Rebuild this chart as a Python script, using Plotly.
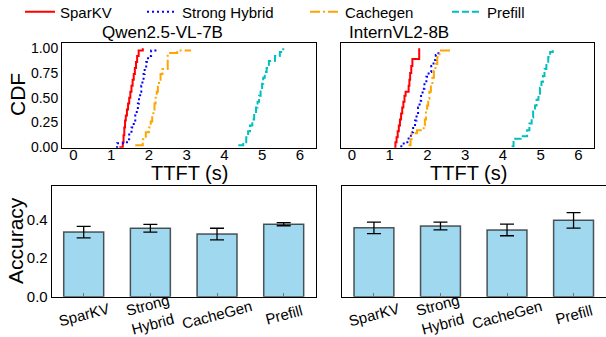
import plotly.graph_objects as go

W, H = 606, 337
FONT = "Liberation Sans, Arial, sans-serif"

methods = ["SparKV", "Strong Hybrid", "Cachegen", "Prefill"]
colors = ["#ff0000", "#0000ff", "#ffa500", "#00bfbf"]
dashes = ["solid", "2px,3px", "10px,3px,2px,3px", "7px,3px"]

# ---- CDF step points (TTFT seconds, CDF) : Qwen2.5-VL-7B ----
qwen_sparkv_x = [1.22, 1.31, 1.33, 1.35, 1.37, 1.39, 1.42, 1.45, 1.48, 1.51, 1.54, 1.57, 1.60, 1.63, 1.66, 1.69, 1.73, 1.84]
qwen_sparkv_y = [0.0, 0.05, 0.12, 0.20, 0.27, 0.32, 0.38, 0.44, 0.50, 0.56, 0.62, 0.68, 0.74, 0.80, 0.86, 0.92, 0.976, 1.0]
qwen_hybrid_x = [1.13, 1.16, 1.42, 1.48, 1.54, 1.60, 1.64, 1.68, 1.71, 1.74, 1.77, 1.80, 1.83, 1.86, 1.89, 1.93, 1.98, 2.06, 2.24]
qwen_hybrid_y = [0.0, 0.04, 0.08, 0.14, 0.20, 0.26, 0.32, 0.38, 0.44, 0.50, 0.56, 0.62, 0.68, 0.74, 0.80, 0.86, 0.92, 0.975, 0.975]
qwen_cachegen_x = [1.64, 1.84, 1.92, 2.00, 2.05, 2.09, 2.12, 2.15, 2.18, 2.21, 2.24, 2.27, 2.31, 2.36, 2.50, 2.75, 3.12]
qwen_cachegen_y = [0.02, 0.08, 0.15, 0.20, 0.26, 0.32, 0.38, 0.44, 0.50, 0.56, 0.62, 0.68, 0.74, 0.79, 0.95, 0.975, 0.975]
qwen_prefill_x = [4.37, 4.50, 4.58, 4.63, 4.68, 4.74, 4.79, 4.84, 4.88, 4.92, 4.96, 5.00, 5.03, 5.07, 5.12, 5.18, 5.34, 5.47, 5.56]
qwen_prefill_y = [0.02, 0.05, 0.10, 0.16, 0.22, 0.28, 0.34, 0.40, 0.46, 0.52, 0.58, 0.64, 0.70, 0.76, 0.80, 0.87, 0.92, 0.96, 1.0]

# ---- CDF step points : InternVL2-8B ----
intern_sparkv_x = [1.12, 1.15, 1.18, 1.21, 1.24, 1.27, 1.30, 1.33, 1.36, 1.39, 1.42, 1.50, 1.52, 1.54, 1.57, 1.60, 1.78]
intern_sparkv_y = [0.0, 0.05, 0.10, 0.16, 0.22, 0.28, 0.34, 0.40, 0.46, 0.52, 0.56, 0.62, 0.68, 0.75, 0.82, 0.89, 1.0]
intern_hybrid_x = [1.28, 1.37, 1.50, 1.56, 1.62, 1.67, 1.71, 1.75, 1.79, 1.83, 1.87, 1.92, 1.97, 2.03, 2.10, 2.16, 2.22, 2.29]
intern_hybrid_y = [0.01, 0.05, 0.10, 0.15, 0.21, 0.27, 0.33, 0.40, 0.47, 0.53, 0.59, 0.65, 0.71, 0.76, 0.82, 0.88, 0.93, 0.98]
intern_cachegen_x = [1.50, 1.55, 1.58, 1.72, 1.90, 1.93, 1.96, 1.99, 2.02, 2.05, 2.09, 2.13, 2.17, 2.21, 2.26, 2.32, 2.60]
intern_cachegen_y = [0.02, 0.08, 0.14, 0.17, 0.22, 0.28, 0.35, 0.42, 0.49, 0.56, 0.63, 0.70, 0.77, 0.84, 0.91, 0.975, 0.975]
intern_prefill_x = [4.23, 4.28, 4.47, 4.64, 4.70, 4.76, 4.80, 4.85, 4.89, 4.94, 4.98, 5.02, 5.06, 5.10, 5.15, 5.20, 5.25, 5.32]
intern_prefill_y = [0.01, 0.085, 0.11, 0.17, 0.24, 0.30, 0.36, 0.42, 0.48, 0.54, 0.60, 0.66, 0.72, 0.79, 0.85, 0.91, 0.96, 1.0]

# ---- Accuracy bars ----
bar_categories = ["SparKV", "Strong Hybrid", "CacheGen", "Prefill"]
bar_labels = ["SparKV", "Strong<br>Hybrid", "CacheGen", "Prefill"]
qwen_acc = [0.335, 0.355, 0.325, 0.376]
qwen_err = [0.030, 0.020, 0.030, 0.008]
intern_acc = [0.357, 0.367, 0.346, 0.396]
intern_err = [0.030, 0.020, 0.030, 0.040]

panel_titles = ["Qwen2.5-VL-7B", "InternVL2-8B"]
cdf_ticks = [0, 1, 2, 3, 4, 5, 6]
cdf_yticks = [0.0, 0.25, 0.5, 0.75, 1.0]
acc_yticks = [0.0, 0.2, 0.4]

qwen_cdf = [(qwen_sparkv_x, qwen_sparkv_y), (qwen_hybrid_x, qwen_hybrid_y),
            (qwen_cachegen_x, qwen_cachegen_y), (qwen_prefill_x, qwen_prefill_y)]
intern_cdf = [(intern_sparkv_x, intern_sparkv_y), (intern_hybrid_x, intern_hybrid_y),
              (intern_cachegen_x, intern_cachegen_y), (intern_prefill_x, intern_prefill_y)]

fig = go.Figure()
legend_names = ["legend", "legend2", "legend3", "legend4"]
for i, (xs, ys) in enumerate(qwen_cdf):
    fig.add_trace(go.Scatter(x=xs, y=ys, mode="lines", line_shape="hv",
                             line=dict(color=colors[i], width=2, dash=dashes[i]),
                             name=methods[i], legend=legend_names[i],
                             xaxis="x", yaxis="y"))
for i, (xs, ys) in enumerate(intern_cdf):
    fig.add_trace(go.Scatter(x=xs, y=ys, mode="lines", line_shape="hv",
                             line=dict(color=colors[i], width=2, dash=dashes[i]),
                             name=methods[i], showlegend=False,
                             xaxis="x2", yaxis="y2"))

bar_style = dict(marker=dict(color="#9fd8ef", line=dict(color="rgba(0,0,0,0.65)", width=1.5)),
                 width=0.6, showlegend=False)
fig.add_trace(go.Bar(x=bar_categories, y=qwen_acc,
                     error_y=dict(type="data", array=qwen_err, color="black", thickness=1.3, width=7),
                     xaxis="x3", yaxis="y3", **bar_style))
fig.add_trace(go.Bar(x=bar_categories, y=intern_acc,
                     error_y=dict(type="data", array=intern_err, color="black", thickness=1.3, width=7),
                     xaxis="x4", yaxis="y4", **bar_style))

def px(x):
    return x / W

def py(y):
    return 1 - y / H

frame = dict(showline=True, linecolor="black", linewidth=1, mirror=True,
             showgrid=False, zeroline=False)
tickfont = dict(family=FONT, size=14, color="black")

cdf_x = dict(range=[-0.3, 6.42], tickvals=cdf_ticks, ticks="", ticklen=0,
             tickfont=dict(family=FONT, size=15, color="black"),
             ticklabelstandoff=-7, **frame)
cdf_y = dict(range=[-0.005, 1.055], tickvals=cdf_yticks, tickformat=".2f", ticks="", ticklen=0,
             tickfont=tickfont, **frame)
bar_x = dict(range=[-0.48, 3.48], type="category", ticks="inside", ticklen=4,
             tickcolor="#777", showticklabels=False, **frame)
bar_y = dict(range=[0, 0.574], tickvals=acc_yticks, tickformat=".1f", ticks="", ticklen=0,
             tickfont=dict(family=FONT, size=15, color="black"), **frame)

fig.update_layout(
    width=W, height=H,
    margin=dict(l=0, r=0, t=0, b=0, autoexpand=False),
    paper_bgcolor="white", plot_bgcolor="white",
    font=dict(family=FONT, color="black"),
    xaxis=dict(domain=[px(62), px(315.7)], anchor="y", **cdf_x),
    yaxis=dict(domain=[py(147.7), py(42.7)], anchor="x", **cdf_y),
    xaxis2=dict(domain=[px(340.7), px(594.3)], anchor="y2", **cdf_x),
    yaxis2=dict(domain=[py(147.7), py(42.7)], anchor="x2", showticklabels=False, **cdf_y),
    xaxis3=dict(domain=[px(51.7), px(315.7)], anchor="y3", **bar_x),
    yaxis3=dict(domain=[py(296.7), py(186)], anchor="x3", **bar_y),
    xaxis4=dict(domain=[px(342), px(605.5)], anchor="y4", **bar_x),
    yaxis4=dict(domain=[py(296.7), py(186)], anchor="x4", showticklabels=False, **bar_y),
    bargap=0.4,
)

legend_x = [20, 142, 305, 447]
leg_common = dict(orientation="h", yanchor="middle", y=py(12), xanchor="left",
                  bgcolor="rgba(0,0,0,0)", borderwidth=0,
                  font=dict(family=FONT, size=15, color="black"))
fig.update_layout(
    legend=dict(x=px(legend_x[0]), **leg_common),
    legend2=dict(x=px(legend_x[1]), **leg_common),
    legend3=dict(x=px(legend_x[2]), **leg_common),
    legend4=dict(x=px(legend_x[3]), **leg_common),
)

annotations = []
title_pos = [(162, 33), (399, 33)]
for t, (tx, ty) in zip(panel_titles, title_pos):
    annotations.append(dict(text=t, x=px(tx), y=py(ty), xref="paper", yref="paper",
                            showarrow=False, xanchor="center", yanchor="middle",
                            font=dict(family=FONT, size=17, color="black")))
# axis titles
axis_titles = [("TTFT (s)", 189, 172.5, 0), ("TTFT (s)", 468, 172.5, 0),
               ("CDF", 17, 95, -90), ("Accuracy", 15, 241, -90)]
for t, tx, ty, ang in axis_titles:
    annotations.append(dict(text=t, x=px(tx), y=py(ty), xref="paper", yref="paper",
                            showarrow=False, xanchor="center", yanchor="middle", textangle=ang,
                            font=dict(family=FONT, size=20 if ang == 0 else 21, color="black")))
for xr in ["x3", "x4"]:
    for cat, lab in zip(bar_categories, bar_labels):
        annotations.append(dict(text=lab, x=cat, y=py(314), xref=xr, yref="paper",
                                showarrow=False, textangle=-15, xanchor="center",
                                yanchor="middle",
                                font=dict(family=FONT, size=15, color="black")))
fig.update_layout(annotations=annotations)

fig.write_html("out.html", config={"displayModeBar": False},
               post_script="document.body.style.margin='0';")
